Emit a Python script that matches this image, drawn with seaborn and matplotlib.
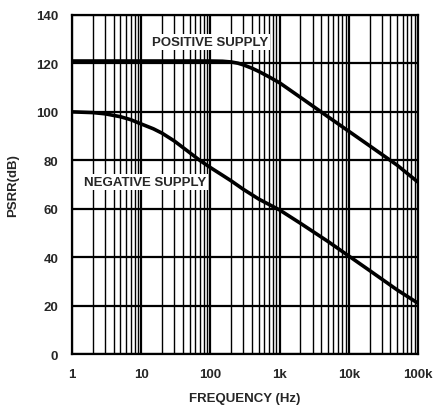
import numpy as np
import pandas as pd
import matplotlib
matplotlib.use("Agg")
import matplotlib.pyplot as plt
import seaborn as sns
from matplotlib.ticker import FixedLocator, LogLocator, NullFormatter

# Data
pos_freq = [1, 10, 100, 150, 200, 250, 300, 400, 500, 700, 1000, 2000, 5000, 10000, 20000, 50000, 100000]
pos_psrr = [121, 121, 121, 120.9, 120.6, 120.1, 119.4, 118, 116.7, 114.5, 112, 106, 98, 92, 86, 78, 71]
neg_freq = [1, 2, 3, 5, 7, 10, 15, 20, 30, 50, 70, 100, 150, 200, 300, 500, 700, 1000, 2000, 5000, 10000, 20000, 50000, 100000]
neg_psrr = [100, 99.7, 99.2, 98, 96.8, 95, 93, 91.2, 88, 83.2, 80, 77, 73.8, 71.5, 68, 64, 61.8, 59.5, 54, 46.5, 40.5, 34.5, 26.5, 21]
x_ticks = [1, 10, 100, 1000, 10000, 100000]
x_tick_labels = ["1", "10", "100", "1k", "10k", "100k"]
y_ticks = [0, 20, 40, 60, 80, 100, 120, 140]

sns.set_style("white")
plt.rcParams['font.family'] = ['Liberation Sans', 'DejaVu Sans']
plt.rcParams['font.weight'] = 'bold'

df = pd.concat([
    pd.DataFrame({"freq": pos_freq, "psrr": pos_psrr, "supply": "POSITIVE SUPPLY"}),
    pd.DataFrame({"freq": neg_freq, "psrr": neg_psrr, "supply": "NEGATIVE SUPPLY"}),
])

fig = plt.figure(figsize=(4.34, 4.10), dpi=100)
ax = fig.add_axes([0.166, 0.134, 0.797, 0.827])

sns.lineplot(data=df, x="freq", y="psrr", units="supply", estimator=None,
             color="black", linewidth=2.6, ax=ax, legend=False, zorder=5)

ax.set_xscale("log")
ax.set_xlim(1, 100000)
ax.set_ylim(0, 140)
ax.xaxis.set_major_locator(FixedLocator(x_ticks))
ax.set_xticklabels(x_tick_labels)
ax.xaxis.set_minor_locator(LogLocator(base=10, subs=np.arange(2, 10), numticks=20))
ax.xaxis.set_minor_formatter(NullFormatter())
ax.set_yticks(y_ticks)

ax.grid(True, which="major", color="black", linewidth=1.6)
ax.grid(True, which="minor", axis="x", color="black", linewidth=1.0)
ax.tick_params(which="both", length=0, labelsize=9.5, pad=10)
for lab in ax.get_xticklabels() + ax.get_yticklabels():
    lab.set_fontweight("bold")
for s in ax.spines.values():
    s.set_color("black")
    s.set_linewidth(1.6)

ax.set_xlabel("FREQUENCY (Hz)", fontsize=9.5, fontweight="bold", labelpad=9)
ax.set_ylabel("PSRR(dB)", fontsize=9.5, fontweight="bold", labelpad=12)

bbox = dict(facecolor="white", edgecolor="none", pad=1.5)
ax.text(98, 129, "POSITIVE SUPPLY", ha="center", va="center", fontsize=9.5,
        fontweight="bold", bbox=bbox, zorder=6)
ax.text(11.4, 71, "NEGATIVE SUPPLY", ha="center", va="center", fontsize=9.5,
        fontweight="bold", bbox=bbox, zorder=6)

fig.savefig("out.png", dpi=100)
